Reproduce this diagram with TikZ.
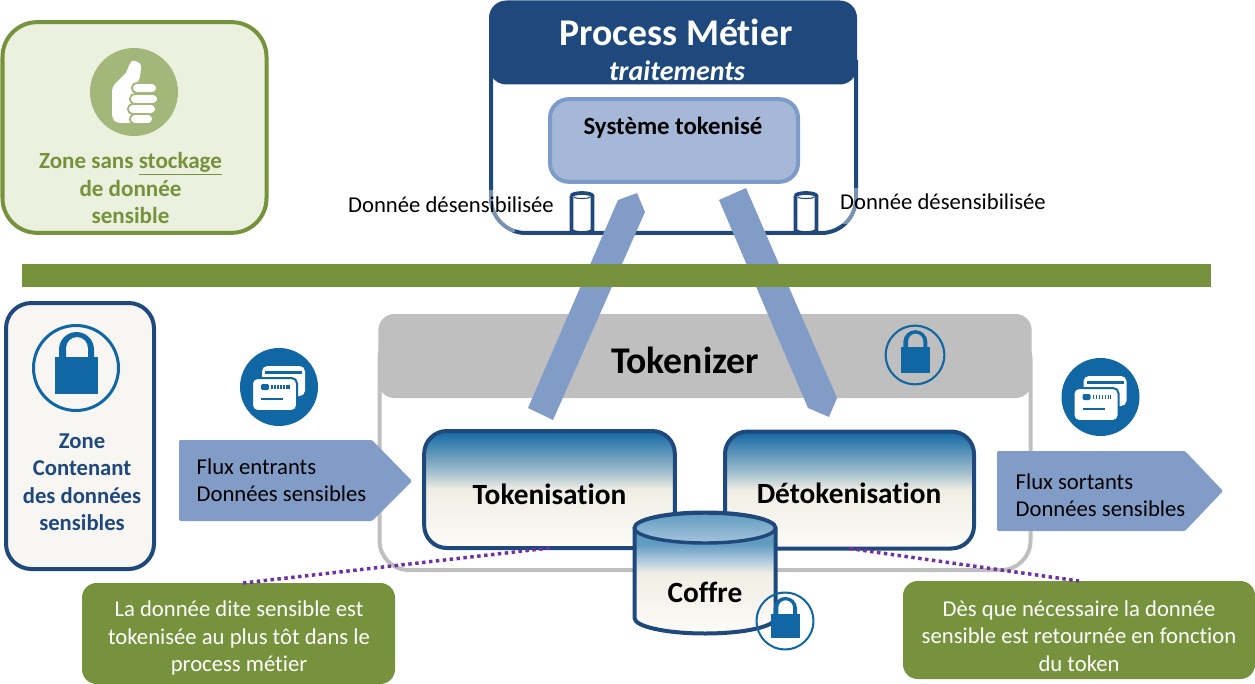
\documentclass[tikz,border=0pt]{standalone}
\usepackage{fontspec}
\setmainfont[Ligatures=NoCommon]{Carlito}

\definecolor{zonegreen}{RGB}{118,146,60}
\definecolor{palegreen}{RGB}{235,241,222}
\definecolor{thumbgreen}{RGB}{163,183,122}
\definecolor{darkblue}{RGB}{31,73,125}
\definecolor{iconblue}{RGB}{17,103,163}
\definecolor{bandblue}{RGB}{130,156,200}
\definecolor{sysblue}{RGB}{166,184,216}
\definecolor{sysborder}{RGB}{125,155,200}
\definecolor{tokengray}{RGB}{191,191,191}
\definecolor{dotpurple}{RGB}{112,48,160}
\definecolor{sandlight}{RGB}{240,238,228}
\definecolor{sandwhite}{RGB}{252,251,247}
\definecolor{fademid}{RGB}{157,188,203}
\definecolor{coffrelight}{RGB}{165,196,220}
\definecolor{coffredeep}{RGB}{97,156,192}
\definecolor{zonepaper}{RGB}{247,246,242}

\pgfdeclareverticalshading{blockfade}{100bp}{
  color(0bp)=(sandwhite); color(25bp)=(sandwhite);
  color(50bp)=(sandlight); color(58bp)=(fademid); color(75bp)=(iconblue); color(100bp)=(iconblue)}
\pgfdeclareverticalshading{coffrefade}{100bp}{
  color(0bp)=(sandwhite); color(25bp)=(sandwhite);
  color(50bp)=(sandlight); color(56bp)=(coffrelight); color(62bp)=(coffredeep); color(100bp)=(coffredeep)}
\pgfdeclareverticalshading{coffretop}{100bp}{
  color(0bp)=(coffrelight); color(25bp)=(coffrelight);
  color(75bp)=(coffredeep); color(100bp)=(coffredeep)}

\tikzset{
  zonebox/.style={draw,rounded corners=26pt,line width=3pt,outer sep=0pt,inner sep=0pt},
  tokenblock/.style={draw=darkblue,line width=3pt,rounded corners=17pt,outer sep=0pt,inner sep=0pt,
    minimum height=87.75pt,shading=blockfade},
  notebox/.style={fill=zonegreen,rounded corners=11pt,outer sep=0pt,inner sep=0pt},
  noteline/.style={dotpurple,line width=2.6pt,dash pattern={on 2.6pt off 2.6pt}},
  bodytext/.style={inner sep=0pt,align=left,font=\fontsize{17}{20.5}\selectfont},
  notetext/.style={inner sep=0pt,align=center,text=white,font=\fontsize{17}{20.5}\selectfont},
  zonetext/.style={inner sep=0pt,align=center,font=\fontsize{17.3}{20.5}\selectfont\bfseries},
  blocktext/.style={inner sep=0pt,font=\fontsize{22}{24}\selectfont\bfseries},
  lockicon/.pic={
    \fill [iconblue,even odd rule] (0,0) circle (44) (0,0) circle (41);
    \fill [iconblue] (-21,-11) rectangle (22,26);
    \fill [iconblue] (-17,-10) -- (-17,-18.5) arc (180:360:17.5) -- (18,-10) -- (12,-10) -- (12,-20) arc (360:180:11) -- (-10,-10) -- cycle;
  },
  cardicon/.pic={
    \fill [iconblue] (0,0) circle (39);
    \fill [white,rounded corners=4pt] (-17,-21) rectangle (26,9);
    \fill [iconblue] (-14,-16) rectangle (23,-13);
    \draw [fill=white,draw=iconblue,line width=1.5pt,rounded corners=4pt] (-27,-9) rectangle (18,24);
    \fill [iconblue,rounded corners=1pt] (-18,-3) rectangle (-10,3);
    \foreach \dotx in {-8,-5,-2,1,4,7,9} {
      \fill [iconblue] (\dotx,-2) rectangle ++(1.6,4);
    }
    \fill [iconblue] (-18,11) rectangle (4,13);
  },
  smallcyl/.pic={
    \draw [darkblue,fill=white,line width=2.8pt] (-10.5,-17) -- (-10.5,17) arc (180:0:10.5 and 3) -- (10.5,-17) arc (0:-180:10.5 and 3);
    \draw [darkblue,line width=0.8pt] (-8,-16) arc (180:0:8 and 1.5);
  },
}

\begin{document}
\begin{tikzpicture}[x=0.75pt,y=0.75pt,yscale=-1]
\useasboundingbox (0,0) rectangle (1255,684);

%Zone sans stockage
\node (zonegreen) [zonebox,draw=zonegreen,fill=palegreen,minimum width=198pt,minimum height=158pt] at (134.5,127.5) {};
\fill [thumbgreen] (134,92) circle (44);
\fill [white,rounded corners=3pt] (112,87) -- (127,72) -- (129,64) .. controls (133,60) and (141,62) .. (141,70) -- (139,82) -- (134,84) -- (134,123) -- (116,123) -- (112,118) -- cycle;
\foreach \fingerleft/\fingertop/\fingerright/\fingerbot in {132/83/157/93,130/94/158/104,128/104/156/114,130/114/153/124} {
  \draw [fill=white,draw=thumbgreen,line width=1.4pt,rounded corners=3.5pt] (\fingerleft,\fingertop) rectangle (\fingerright,\fingerbot);
}
% Text Node
\node (zonegreentxt) [zonetext,text=zonegreen] at (130.5,188) {Zone sans \underline{stockage}\\de donnée\\sensible};

%Tokenizer frame and header
\draw [tokengray,line width=3pt,rounded corners=22pt] (379.5,330) rectangle (1030.5,570);
\node (tokenizer) [fill=tokengray,rounded corners=12pt,inner sep=0pt,minimum width=490pt,minimum height=63pt] at (705,356) {};
\pic [scale=0.69,yscale=-1] at (915,355) {lockicon};

%Process header and frame
\draw [darkblue,line width=3pt,rounded corners=26pt] (491,60) -- (491,233) -- (856,233) -- (856,60);
\fill [white,opacity=0.4] (350,190) rectangle (515,232);
\fill [white,opacity=0.4] (840,188) rectangle (860,224);
\node (process) [fill=darkblue,rounded corners=13pt,inner sep=0pt,minimum width=276pt,minimum height=63pt] at (673,42.5) {};
\node (systeme) [draw=sysborder,fill=sysblue,line width=3pt,rounded corners=14pt,inner sep=0pt,outer sep=0pt,minimum width=186pt,minimum height=62pt] at (674,140.5) {};

%Bands between Process and Tokenizer
\fill [bandblue] (618,200) -- (637,193) -- (645,212) -- (553,420) -- (528,408) -- cycle;
\fill [bandblue] (719,200) -- (746,188) -- (837,398) -- (829,417) -- (808,408) -- cycle;
\pic [yscale=-1] at (582,213) {smallcyl};
\pic [yscale=-1] at (806,213) {smallcyl};

%Green separator
\node (separator) [fill=zonegreen,inner sep=0pt,minimum width=891.75pt,minimum height=17.25pt] at (616.5,275.5) {};

%Zone contenant
\node (zoneblue) [zonebox,draw=darkblue,fill=zonepaper,rounded corners=19pt,minimum width=111pt,minimum height=199.5pt] at (80,436) {};
\pic [yscale=-1] at (76,368) {lockicon};

%Flux entrants and sortants
\pic [yscale=-1] at (279,387) {cardicon};
\pic [yscale=-1] at (1100.5,397) {cardicon};
\fill [bandblue,rounded corners=1pt] (179,440) -- (372,440) -- (412,481) -- (372,521) -- (179,521) -- cycle;
\fill [bandblue,rounded corners=1pt] (997,451) -- (1185,451) -- (1223,491) -- (1185,531) -- (997,531) -- cycle;

%Blocks
\node (tokenisation) [tokenblock,minimum width=188pt] at (549.5,489.5) {};
\node (detokenisation) [tokenblock,minimum width=186.75pt] at (849.5,490) {};

%Notes and their links
\node (noteleft) [notebox,minimum width=234.75pt,minimum height=75.75pt] at (238.5,633.5) {};
\node (noteright) [notebox,minimum width=264pt,minimum height=73.5pt] at (1079,630) {};
\draw [noteline] (tokenisation.south) -- ([xshift=3.4pt]noteleft.north);
\draw [noteline] (detokenisation.south) -- (noteright.north);

%Coffre
\draw [darkblue,line width=3pt,shading=coffrefade] (634.5,528) -- (634.5,618) arc (180:0:70.5 and 15.5) -- (775.5,528) arc (0:-180:70.5 and 15.5) -- cycle;
\draw [darkblue,line width=2.6pt,shading=coffretop] (705,528) ellipse (70.5 and 15);
\pic [scale=0.67,yscale=-1] at (785,621) {lockicon};

% Text Node
\node (processtxt) [inner sep=0pt,text=white,font=\fontsize{28.3}{30}\selectfont\bfseries] at (676,32) {Process Métier};
% Text Node
\node (traitementstxt) [inner sep=0pt,text=white,font=\fontsize{21}{24}\selectfont\bfseries\itshape] at (677,71) {traitements};
% Text Node
\node (systemetxt) [inner sep=0pt,font=\fontsize{18.6}{20}\selectfont\bfseries] at (673,128) {Système tokenisé};
% Text Node
\node (desensleft) [bodytext] at (451,205) {Donnée désensibilisée};
% Text Node
\node (desensright) [bodytext] at (943,202) {Donnée désensibilisée};
% Text Node
\node (tokenizertxt) [inner sep=0pt,font=\fontsize{28.3}{30}\selectfont\bfseries] at (685,360) {Tokenizer};
% Text Node
\node (tokenisationtxt) [blocktext] at (549.5,494) {Tokenisation};
% Text Node
\node (detokenisationtxt) [blocktext] at (849,493) {Détokenisation};
% Text Node
\node (coffretxt) [blocktext] at (705,592) {Coffre};
% Text Node
\node (zonebluetxt) [zonetext,text=darkblue,font=\fontsize{17}{20.6}\selectfont\bfseries] at (82,482) {Zone\\Contenant\\des données\\sensibles};
% Text Node
\node (fluxintxt) [bodytext] at (281.5,480.5) {Flux entrants\\Données sensibles};
% Text Node
\node (fluxouttxt) [bodytext] at (1100.5,495.5) {Flux sortants\\Données sensibles};
% Text Node
\node (notelefttxt) [notetext] at (239,638) {La donnée dite sensible est\\tokenisée au plus tôt dans le\\process métier};
% Text Node
\node (noterighttxt) [notetext] at (1079,636) {Dès que nécessaire la donnée\\sensible est retournée en fonction\\du token};

\end{tikzpicture}
\end{document}
